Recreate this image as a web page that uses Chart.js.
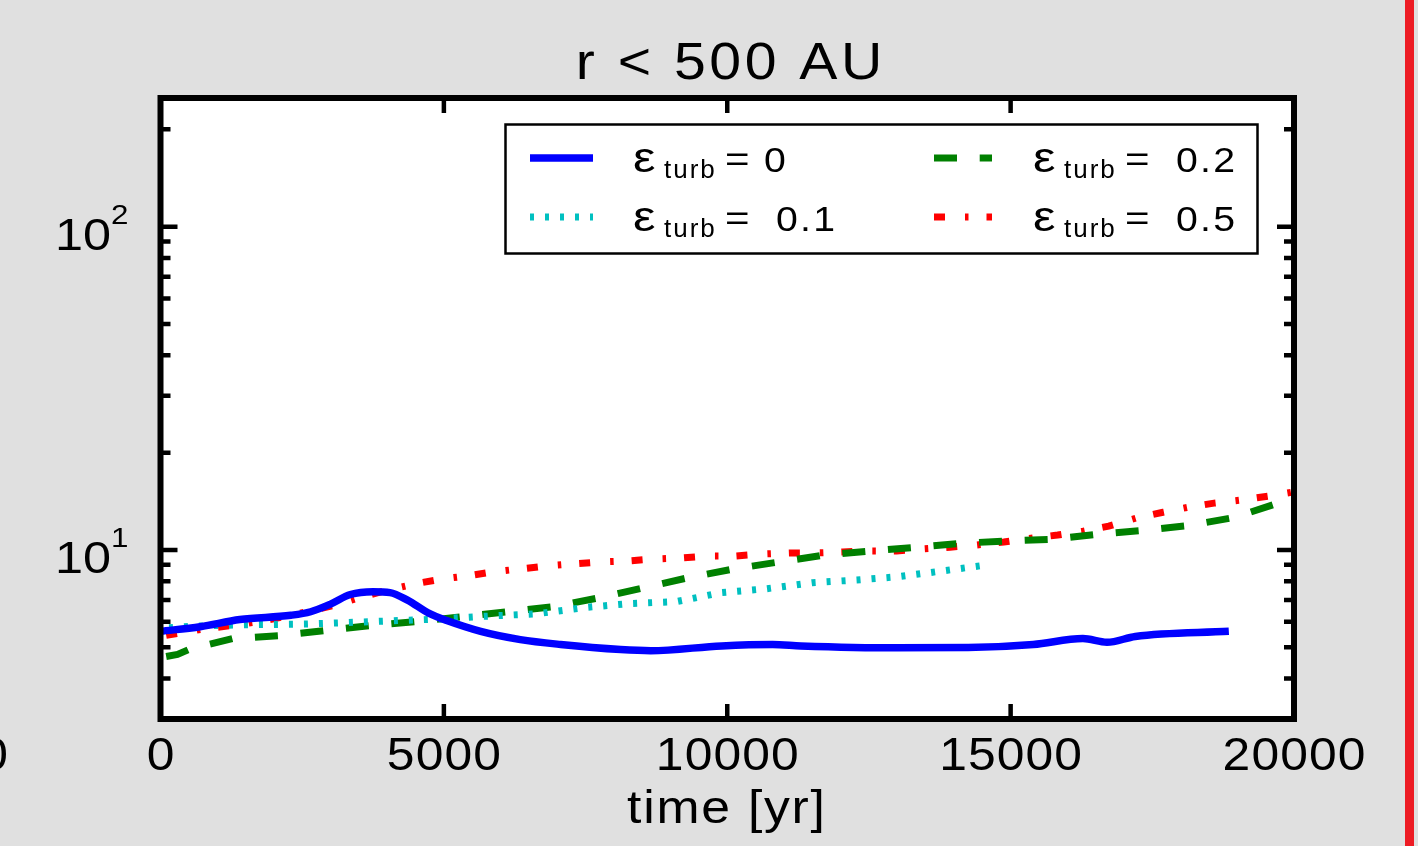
<!DOCTYPE html>
<html><head><meta charset="utf-8">
<script src="https://cdn.jsdelivr.net/npm/chart.js@4.4.1/dist/chart.umd.min.js"></script>
<style>html,body{margin:0;padding:0;background:#e0e0e0;overflow:hidden}canvas{display:block}</style>
</head><body>
<canvas id="c" width="1418" height="846"></canvas>
<script>
// ---- data ----
const titleText = 'r < 500 AU';
const xAxisTitle = 'time [yr]';
const xTickValues = [0, 5000, 10000, 15000, 20000];
const yMajorTicks = [10, 100];
const yMinorTicks = [4, 5, 6, 7, 8, 9, 20, 30, 40, 50, 60, 70, 80, 90, 200];
const seriesValues = ['0', '0.1', '0.2', '0.5'];

const t0 = [0, 700, 1400, 2300, 2650, 3000, 3350, 3750, 4050, 4350, 4750, 5050, 5650, 6350, 7060, 8120, 8650, 9900, 10800, 11300, 13000, 14250, 15400, 16275, 16700, 17200, 18850];
const v0 = [5.6, 5.79, 6.09, 6.28, 6.44, 6.8, 7.28, 7.43, 7.38, 7.01, 6.35, 6.05, 5.6, 5.28, 5.1, 4.92, 4.88, 5.05, 5.1, 5.05, 4.98, 4.99, 5.1, 5.32, 5.18, 5.4, 5.6];

const t1 = [150, 700, 1500, 2600, 3700, 4770, 5600, 6650, 7500, 8300, 9100, 9900, 10700, 11500, 12350, 13000, 13550, 14500];
const v1 = [5.75, 5.82, 5.87, 5.9, 6.0, 6.1, 6.22, 6.35, 6.64, 6.83, 6.92, 7.38, 7.59, 7.92, 8.09, 8.26, 8.5, 8.95];

const t2 = [100, 300, 500, 1270, 2080, 2880, 3710, 4500, 5330, 6130, 6940, 7750, 8530, 9300, 10120, 10930, 11740, 12550, 13360, 14180, 14950, 15760, 16560, 17350, 18150, 18940, 19740, 20000];
const v2 = [4.68, 4.75, 4.92, 5.32, 5.43, 5.63, 5.84, 6.0, 6.22, 6.44, 6.68, 7.12, 7.64, 8.2, 8.74, 9.19, 9.66, 9.93, 10.2, 10.5, 10.66, 10.8, 11.2, 11.5, 11.9, 12.6, 14.0, 14.45];

const t3 = [100, 300, 800, 1270, 1730, 2190, 2670, 3120, 3570, 4030, 4500, 4980, 5440, 5880, 6360, 6830, 7310, 7790, 8260, 8720, 9200, 9670, 10150, 10630, 11090, 11560, 12040, 12520, 12990, 13450, 13930, 14400, 14880, 15360, 15830, 16280, 16730, 17210, 17690, 18130, 18590, 19060, 19540, 19950];
const v3 = [5.45, 5.52, 5.71, 5.84, 6.0, 6.22, 6.49, 6.78, 7.17, 7.53, 7.86, 8.14, 8.32, 8.56, 8.74, 8.93, 9.06, 9.19, 9.25, 9.38, 9.45, 9.58, 9.58, 9.72, 9.79, 9.79, 9.86, 9.93, 9.93, 10.07, 10.2, 10.36, 10.58, 10.88, 11.12, 11.43, 11.85, 12.54, 13.08, 13.55, 13.96, 14.26, 14.66, 15.07];

const pts = (t, v) => t.map((x, i) => ({x: x, y: v[i]}));
const FONT = '"Liberation Sans", Arial, sans-serif';

function txt(ctx, s, x, y, size, sx, align, spacing) {
  ctx.save();
  ctx.font = size + 'px ' + FONT;
  ctx.textBaseline = 'alphabetic';
  ctx.textAlign = 'left';
  ctx.letterSpacing = (spacing || 0) + 'px';
  const w = (ctx.measureText(s).width - (spacing || 0)) * sx;
  const x0 = align === 'center' ? x - w / 2 : (align === 'right' ? x - w : x);
  ctx.translate(x0, y);
  ctx.scale(sx, 1);
  ctx.fillStyle = '#000';
  ctx.fillText(s, 0, 0);
  ctx.restore();
}

const decor = {
  id: 'decor',
  beforeDraw(chart) {
    const ctx = chart.ctx, a = chart.chartArea;
    ctx.save();
    ctx.fillStyle = '#e0e0e0';
    ctx.fillRect(0, 0, chart.width, chart.height);
    ctx.fillStyle = '#ffffff';
    ctx.fillRect(a.left, a.top, a.right - a.left, a.bottom - a.top);
    ctx.fillStyle = '#ed1c24';
    ctx.fillRect(1405, 0, 9, chart.height);
    ctx.restore();
  },
  afterDraw(chart) {
    const ctx = chart.ctx, a = chart.chartArea;
    const xs = chart.scales.x, ys = chart.scales.y;
    ctx.save();
    ctx.strokeStyle = '#000';
    ctx.lineWidth = 4.5;
    ctx.lineCap = 'butt';
    xTickValues.forEach(v => {
      const px = xs.getPixelForValue(v);
      if (px <= a.left + 1 || px >= a.right - 1) return;
      ctx.beginPath();
      ctx.moveTo(px, a.bottom); ctx.lineTo(px, a.bottom - 15);
      ctx.moveTo(px, a.top); ctx.lineTo(px, a.top + 15);
      ctx.stroke();
    });
    const yt = (v, len) => {
      const py = ys.getPixelForValue(v);
      ctx.beginPath();
      ctx.moveTo(a.left, py); ctx.lineTo(a.left + len, py);
      ctx.moveTo(a.right, py); ctx.lineTo(a.right - len, py);
      ctx.stroke();
    };
    yMajorTicks.forEach(v => yt(v, 17));
    yMinorTicks.forEach(v => yt(v, 10));
    ctx.lineWidth = 6;
    ctx.strokeRect(a.left, a.top, a.right - a.left, a.bottom - a.top);
    ctx.restore();

    xTickValues.forEach(v => {
      txt(ctx, String(v), xs.getPixelForValue(v), 770, 47, 1.06, 'center', 1);
    });
    txt(ctx, '0', -6, 770, 47, 1.06, 'center');
    txt(ctx, xAxisTitle, 726, 823, 47, 1.1, 'center', 1.6);
    yMajorTicks.forEach(v => {
      const py = ys.getPixelForValue(v);
      txt(ctx, '10', 55, py + 23, 45, 1.12, 'left');
      txt(ctx, String(Math.round(Math.log10(v))), 111, py - 3, 28, 1.12, 'left');
    });
    txt(ctx, titleText, 729, 79, 52, 1.1, 'center', 3.2);

    // legend
    ctx.save();
    ctx.fillStyle = '#fff';
    ctx.fillRect(505, 124, 753, 129);
    ctx.strokeStyle = '#000';
    ctx.lineWidth = 2.5;
    ctx.strokeRect(505.5, 124.5, 752, 129);
    ctx.restore();
    const slots = [
      {ds: 0, sx0: 530, sx1: 593, ly: 158, base: 172, ex: 633, vx: 764},
      {ds: 1, sx0: 530, sx1: 593, ly: 217, base: 231, ex: 633, vx: 776},
      {ds: 2, sx0: 934, sx1: 992, ly: 158, base: 172, ex: 1033, vx: 1176},
      {ds: 3, sx0: 934, sx1: 992, ly: 217, base: 231, ex: 1033, vx: 1176}
    ];
    slots.forEach(s => {
      const d = chart.data.datasets[s.ds];
      ctx.save();
      ctx.strokeStyle = d.borderColor;
      ctx.lineWidth = d.borderWidth;
      ctx.setLineDash(d.borderDash || []);
      ctx.lineCap = 'butt';
      ctx.beginPath();
      ctx.moveTo(s.sx0, s.ly); ctx.lineTo(s.sx1, s.ly);
      ctx.stroke();
      ctx.restore();
      txt(ctx, '\u03b5', s.ex, s.base, 42, 1.2, 'left');
      txt(ctx, 'turb', s.ex + 31, s.base + 6, 26, 1.0, 'left', 2);
      txt(ctx, '=', s.ex + 92, s.base - 1, 35, 1.2, 'left');
      txt(ctx, seriesValues[s.ds], s.vx, s.base, 35, 1.12, 'left', 2);
    });
  }
};

new Chart(document.getElementById('c'), {
  type: 'line',
  data: {
    datasets: [
      {label: '\u03b5turb = ' + seriesValues[0], data: pts(t0, v0), borderColor: '#0000ff', borderWidth: 7.5, cubicInterpolationMode: 'monotone', pointRadius: 0, fill: false},
      {label: '\u03b5turb = ' + seriesValues[1], data: pts(t1, v1), borderColor: '#00c0c0', borderWidth: 7, borderDash: [4, 11], tension: 0, pointRadius: 0, fill: false},
      {label: '\u03b5turb = ' + seriesValues[2], data: pts(t2, v2), borderColor: '#008000', borderWidth: 7, borderDash: [23, 22.7], tension: 0, pointRadius: 0, fill: false},
      {label: '\u03b5turb = ' + seriesValues[3], data: pts(t3, v3), borderColor: '#ff0000', borderWidth: 7, borderDash: [11, 20, 3.5, 18], tension: 0, pointRadius: 0, fill: false}
    ]
  },
  options: {
    responsive: false,
    animation: false,
    devicePixelRatio: 1,
    layout: {padding: {top: 98, right: 124, bottom: 0, left: 0}},
    plugins: {legend: {display: false}, tooltip: {enabled: false}, title: {display: false}},
    scales: {
      x: {
        type: 'linear', min: 0, max: 20000,
        ticks: {display: false, stepSize: 5000},
        grid: {display: false, drawTicks: false},
        border: {display: false},
        afterFit(s) { s.height = 127; }
      },
      y: {
        type: 'logarithmic', min: 3, max: 250,
        ticks: {display: false},
        grid: {display: false, drawTicks: false},
        border: {display: false},
        afterFit(s) { s.width = 160.5; }
      }
    }
  },
  plugins: [decor]
});
</script>
</body></html>
